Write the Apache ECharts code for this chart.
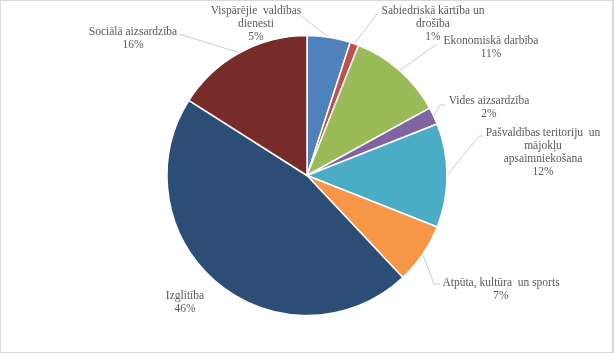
<!DOCTYPE html>
<html>
<head>
<meta charset="utf-8">
<script src="https://cdn.jsdelivr.net/npm/echarts@6/dist/echarts.min.js"></script>
<style>
  html, body { margin: 0; padding: 0; background: #fff; }
  #frame {
    box-sizing: border-box;
    width: 614px;
    height: 353px;
    border: 1px solid #d9d9d9;
    border-right-width: 2px;
  }
  #chart { width: 100%; height: 100%; }
</style>
</head>
<body>
<div id="frame"><div id="chart"></div></div>
<script>
// budžeta izdevumu sadalījums (%)
const categories = [
  'Vispārējie  valdības\ndienesti',
  'Sabiedriskā kārtība un\ndrošība',
  'Ekonomiskā darbība',
  'Vides aizsardzība',
  'Pašvaldības teritoriju  un\nmājokļu\napsaimniekošana',
  'Atpūta, kultūra  un sports',
  'Izglītība',
  'Sociālā aizsardzība'
]
const shares = [5, 1, 11, 2, 12, 7, 46, 16]
const colors = ['#4F81BD', '#C0504D', '#9BBB59', '#8064A2', '#4BACC6', '#F79646', '#2C4D75', '#772C2A']

// label placement: centre x, top y, leader end points near the text
const labelSpots = [
  { x: 255, y: 3, line: [[300, 15]] },
  { x: 432, y: 3, line: [[376, 13]] },
  { x: 490, y: 33, line: [[436, 43]] },
  { x: 488, y: 93, line: [[439, 104], [444, 104]] },
  { x: 542, y: 125, line: [[478, 135], [482, 135]] },
  { x: 500, y: 275, line: [[433, 283], [439, 283]] },
  { x: 184, y: 288, line: null },
  { x: 132, y: 24, line: [[178, 33]] }
]

const chart = echarts.init(document.getElementById('chart'))

chart.setOption({
  animation: false,
  color: colors,
  series: [
    {
      type: 'pie',
      center: [306, 174.5],
      radius: 140,
      startAngle: 90,
      clockwise: true,
      avoidLabelOverlap: false,
      itemStyle: {
        borderColor: '#ffffff',
        borderWidth: 1.5
      },
      label: {
        show: true,
        position: 'outside',
        formatter: p => p.name + '\n' + p.value + '%',
        fontFamily: '"Liberation Serif", "Times New Roman", serif',
        fontSize: 11.5,
        lineHeight: 13,
        color: '#595959',
        align: 'center'
      },
      labelLine: {
        show: true,
        lineStyle: { color: '#bfbfbf', width: 0.8 }
      },
      labelLayout: params => {
        const spot = labelSpots[params.dataIndex]
        const start = params.labelLinePoints ? params.labelLinePoints[0] : null
        const out = {
          x: spot.x,
          y: spot.y,
          align: 'center',
          verticalAlign: 'top'
        }
        if (spot.line && start) {
          out.labelLinePoints = [start].concat(spot.line)
        } else {
          out.labelLinePoints = start ? [start, start] : undefined
        }
        return out
      },
      data: categories.map((name, i) => ({ name: name, value: shares[i] }))
    }
  ]
})
</script>
</body>
</html>
